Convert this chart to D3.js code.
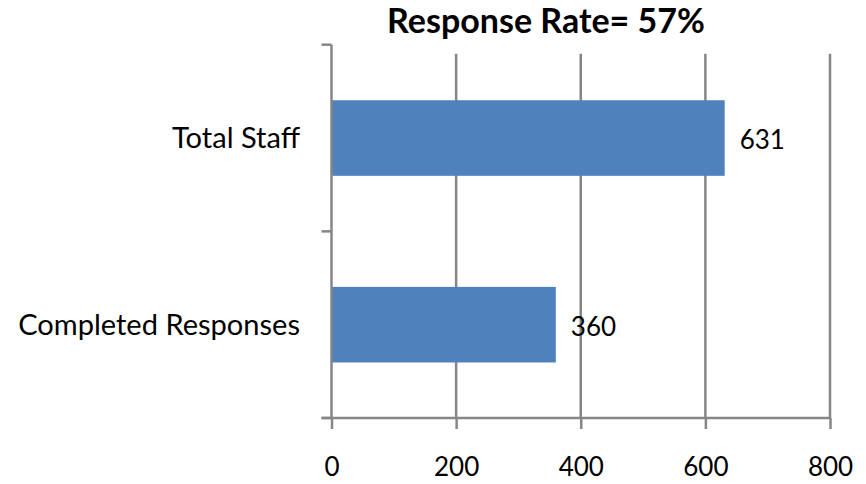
<!DOCTYPE html>
<html>
<head>
<meta charset="utf-8">
<script src="https://cdn.jsdelivr.net/npm/d3@7"></script>
<style>
  html, body { margin: 0; padding: 0; background: #ffffff; }
  svg { display: block; }
  text { font-family: Lato, "Open Sans", "DejaVu Sans", sans-serif; fill: #000; }
</style>
</head>
<body>
<svg id="chart" width="866" height="484"></svg>
<script>
// Survey response counts
const title = "Response Rate= 57%";
const categories = ["Total Staff", "Completed Responses"];
const values = [631, 360];
const xTicks = [0, 200, 400, 600, 800];
const xDomain = [0, 800];

const W = 866, H = 484;
const margin = { top: 44.7, right: 36, bottom: 66, left: 331.5 };
const axisColor = "#868686";
const barColor = "#4F81BD";
const numSize = 26;

const svg = d3.select("#chart");

const x = d3.scaleLinear()
  .domain(xDomain)
  .range([margin.left, W - margin.right]);

const y = d3.scaleBand()
  .domain(categories)
  .range([margin.top, H - margin.bottom])
  .paddingInner(0.595)
  .paddingOuter(0.2975);

const y0 = y.range()[0], y1 = y.range()[1];

// scale a text's font-size so its rendered width equals target
function fitWidth(sel, target, base) {
  sel.style("font-size", base + "px");
  const w = sel.node().getComputedTextLength();
  const size = base * target / w;
  sel.style("font-size", size + "px");
  return size;
}

// vertical gridlines
svg.append("g")
  .selectAll("line")
  .data(xTicks.filter(d => d > 0))
  .join("line")
  .attr("x1", d => x(d)).attr("x2", d => x(d))
  .attr("y1", y0 + 9).attr("y2", y1)
  .attr("stroke", axisColor)
  .attr("stroke-width", 2.5);

// bars
svg.append("g")
  .selectAll("rect")
  .data(categories)
  .join("rect")
  .attr("x", x(0))
  .attr("y", d => y(d))
  .attr("width", (d, i) => x(values[i]) - x(0))
  .attr("height", y.bandwidth())
  .attr("fill", barColor);

// category axis (left) with ticks at band boundaries
const boundary = d3.scaleLinear().domain([0, categories.length]).range([y0, y1]);
const yAxis = svg.append("g");
yAxis.append("line")
  .attr("x1", x(0)).attr("x2", x(0))
  .attr("y1", y0).attr("y2", y1)
  .attr("stroke", axisColor).attr("stroke-width", 2.5);
yAxis.selectAll("line.tick")
  .data(d3.range(categories.length + 1))
  .join("line")
  .attr("class", "tick")
  .attr("x1", x(0) - 10).attr("x2", x(0))
  .attr("y1", d => boundary(d)).attr("y2", d => boundary(d))
  .attr("stroke", axisColor).attr("stroke-width", 2.5);

// value axis (bottom)
const xAxis = svg.append("g")
  .attr("transform", `translate(0,${y1})`)
  .call(d3.axisBottom(x).tickValues(xTicks).tickSize(11).tickSizeOuter(0));
xAxis.select(".domain")
  .attr("d", `M${x(0) - 10},0H${x(800) + 1}`)
  .attr("stroke", axisColor).attr("stroke-width", 2.5);
xAxis.selectAll(".tick line").attr("stroke", axisColor).attr("stroke-width", 2.5);
xAxis.selectAll(".tick text")
  .attr("y", 58)
  .attr("dy", 0)
  .style("font-family", "Lato, 'Open Sans', sans-serif")
  .style("font-size", numSize + "px")
  .attr("fill", "#000");

// category labels
const catLabels = svg.append("g")
  .selectAll("text")
  .data(categories)
  .join("text")
  .attr("x", 300)
  .attr("y", d => y(d) + y.bandwidth() / 2)
  .attr("dy", "0.35em")
  .attr("text-anchor", "end")
  .text(d => d);
const catSize = fitWidth(catLabels.filter((d, i) => i === 1), 282, 28);
catLabels.style("font-size", catSize + "px");

// value labels
svg.append("g")
  .selectAll("text")
  .data(categories)
  .join("text")
  .attr("x", (d, i) => x(values[i]) + 15)
  .attr("y", d => y(d) + y.bandwidth() / 2 + 2)
  .attr("dy", "0.35em")
  .style("font-size", numSize + "px")
  .text((d, i) => values[i]);

// title
const t = svg.append("text")
  .attr("x", 546)
  .attr("y", 33)
  .attr("text-anchor", "middle")
  .style("font-weight", "bold")
  .text(title);
fitWidth(t, 318, 30);
</script>
</body>
</html>
